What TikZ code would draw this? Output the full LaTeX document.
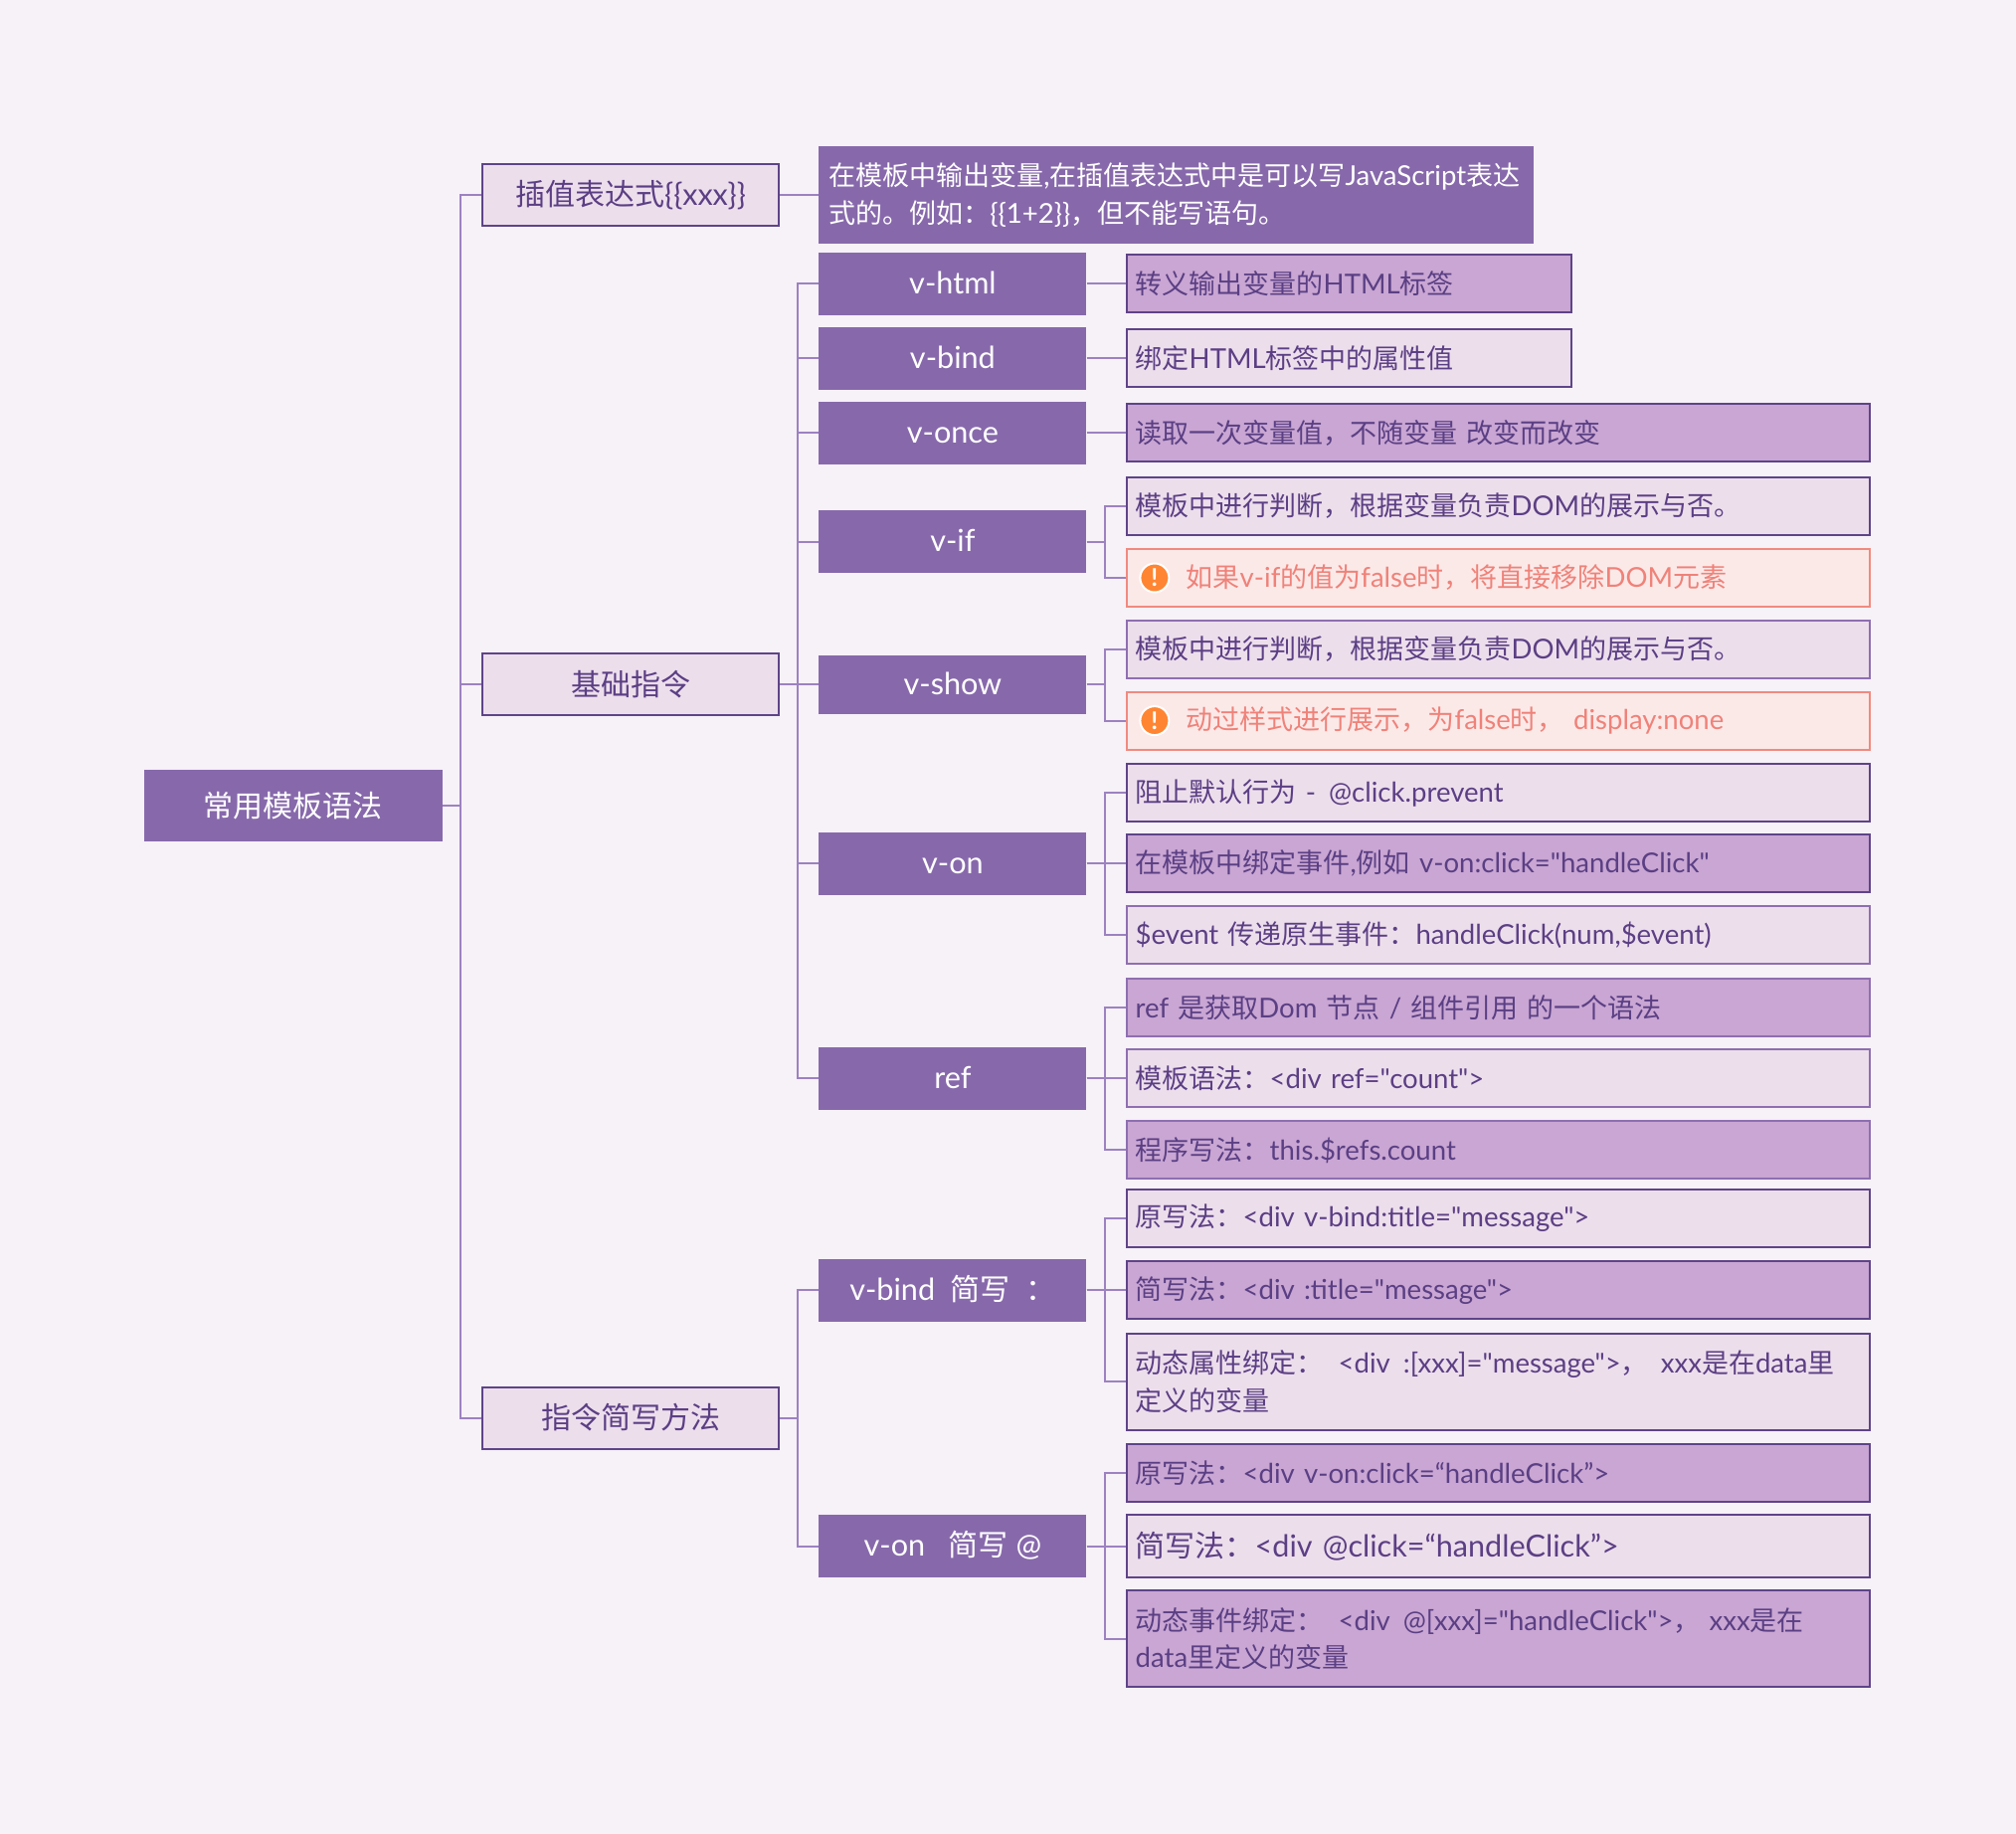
\documentclass[tikz,border=0pt]{standalone}
\usepackage{fontspec}
\newfontfamily\latinface[Scale=1.02]{Lato}
\newfontfamily\cjk{Noto Sans CJK SC}
\XeTeXinterchartokenstate=1
\newXeTeXintercharclass\cjkclass
\newcount\cjkcnt
\def\cjkrange#1#2{\cjkcnt=#1 \loop\ifnum\cjkcnt<#2 \XeTeXcharclass\cjkcnt=\cjkclass \advance\cjkcnt by 1 \repeat}
\cjkrange{"3000}{"3040}
\cjkrange{"4E00}{"A000}
\cjkrange{"FF00}{"FFF0}
\XeTeXinterchartoks 0 \cjkclass={\cjk}
\XeTeXinterchartoks 4095 \cjkclass={\cjk}
\XeTeXinterchartoks \cjkclass 0 ={\latinface}
\XeTeXinterchartoks \cjkclass 4095 ={\latinface}
\definecolor{pagebg}{HTML}{F7F1F8}
\definecolor{barfill}{HTML}{8769AB}
\definecolor{lightfill}{HTML}{EDDEEC}
\definecolor{midfill}{HTML}{C9A6D3}
\definecolor{boxline}{HTML}{5E4488}
\definecolor{softline}{HTML}{8E6FB0}
\definecolor{connline}{HTML}{9C82C0}
\definecolor{inktext}{HTML}{5B3F84}
\definecolor{alertfill}{HTML}{FBE9E8}
\definecolor{alertline}{HTML}{F08A80}
\definecolor{alerttext}{HTML}{EF8279}
\definecolor{alerticon}{HTML}{FF8533}
\tikzset{
  big/.style={font=\fontsize{30}{38}\selectfont\latinface},
  small/.style={font=\fontsize{27}{37.5}\selectfont\latinface},
  rootbox/.style={big, fill=barfill, text=white, minimum width=300pt, minimum height=72pt},
  groupbox/.style={big, draw=boxline, line width=2pt, fill=lightfill, text=inktext, minimum width=298pt, minimum height=62pt},
  keybox/.style={big, fill=barfill, text=white, minimum width=269pt, minimum height=63pt, text height=20pt, text depth=0pt},
  descbox/.style={small, fill=barfill, text=white, minimum width=719pt, minimum height=98pt, text width=699pt, inner xsep=10pt, align=left},
  leafbox/.style={small, draw=boxline, line width=2pt, text=inktext, text width=#1-17pt, inner xsep=8.5pt, align=left, minimum height=58pt},
  leafbox/.default=747pt,
  lightleaf/.style={leafbox=#1, fill=lightfill},
  lightleaf/.default=747pt,
  midleaf/.style={leafbox=#1, fill=midfill},
  midleaf/.default=747pt,
  alertleaf/.style={small, draw=alertline, line width=2pt, fill=alertfill, text=alerttext, text width=730pt, inner xsep=8.5pt, align=left, minimum height=58pt, execute at begin node=\hspace*{51pt}},
  alertmark/.style={circle, draw=white, line width=2pt, fill=alerticon, text=white, minimum size=29pt, inner sep=0pt, font=\fontsize{24}{24}\bfseries\selectfont\latinface},
  conn/.style={draw=connline, line width=2pt}
}
\begin{document}
\begin{tikzpicture}[x=1pt,y=-1pt]
\useasboundingbox (0,0) rectangle (2027,1844);
\fill[pagebg] (0,0) rectangle (2027,1844);

\node[rootbox] (root) at (294.7,810) {常用模板语法};
\node[groupbox] (interp) at (634.1,195.8) {插值表达式\{\{xxx\}\}};
\node[groupbox] (basic) at (634.1,688.4) {基础指令};
\node[groupbox] (short) at (634.1,1425.5) {指令简写方法};
\node[descbox] (desc) at (1182.8,195.8) {在模板中输出变量,在插值表达式中是可以写JavaScript表达\\式的。例如：\{\{1+2\}\}，但不能写语句。};

\node[keybox] (vhtml) at (957.9,285) {v-html};
\node[keybox] (vbind) at (957.9,360) {v-bind};
\node[keybox] (vonce) at (957.9,435) {v-once};
\node[keybox] (vif) at (957.9,544.9) {v-if};
\node[keybox, minimum height=59pt] (vshow) at (957.9,688.4) {v-show};
\node[keybox] (von) at (957.9,868) {v-on};
\node[keybox] (ref) at (957.9,1084.4) {ref};
\node[keybox] (vbindshort) at (957.9,1297.2) {v-bind\ \ 简写\ \ ：};
\node[keybox] (vonshort) at (957.9,1554.5) {v-on\ \ \ 简写 @};

\node[midleaf=447pt] (htmlnote) at (1356.7,285) {转义输出变量的HTML标签};
\node[lightleaf=447pt] (bindnote) at (1356.7,360) {绑定HTML标签中的属性值};
\node[midleaf] (oncenote) at (1506.7,435) {读取一次变量值，不随变量 改变而改变};
\node[lightleaf] (ifnote) at (1506.7,508.7) {模板中进行判断，根据变量负责DOM的展示与否。};
\node[alertleaf] (ifalert) at (1506.7,581) {如果v-if的值为false时，将直接移除DOM元素};
\node[lightleaf, draw=softline] (shownote) at (1506.7,652.8) {模板中进行判断，根据变量负责DOM的展示与否。};
\node[alertleaf] (showalert) at (1506.7,724.6) {动过样式进行展示，为false时， display:none};
\node[lightleaf] (onprevent) at (1506.7,797) {阻止默认行为 -\hspace{13pt}@click.prevent};
\node[midleaf] (onclick) at (1506.7,868) {在模板中绑定事件,例如 v-on:click="handleClick"};
\node[lightleaf, draw=softline] (onevent) at (1506.7,940.4) {\$event 传递原生事件：handleClick(num,\$event)};
\node[midleaf, draw=softline] (refwhat) at (1506.7,1012.8) {ref 是获取Dom 节点 / 组件引用 的一个语法};
\node[lightleaf, draw=softline] (reftpl) at (1506.7,1084.4) {模板语法：<div ref="count">};
\node[midleaf, draw=softline] (refcode) at (1506.7,1156.3) {程序写法：this.\$refs.count};
\node[lightleaf] (bindold) at (1506.7,1224.8) {原写法：<div v-bind:title="message">};
\node[midleaf] (bindnew) at (1506.7,1297.2) {简写法：<div :title="message">};
\node[lightleaf, minimum height=97pt] (binddyn) at (1506.7,1389) {动态属性绑定：\hspace{15pt}<div\hspace{13pt}:[xxx]="message">，\hspace{13pt}xxx是在data里\\定义的变量};
\node[midleaf] (onold) at (1506.7,1480.8) {原写法：<div v-on:click=“handleClick”>};
\node[lightleaf, big, minimum height=63pt] (onnew) at (1506.7,1554.5) {简写法：<div @click=“handleClick”>};
\node[midleaf, minimum height=97pt] (ondyn) at (1506.7,1647.6) {动态事件绑定：\hspace{15pt}<div\hspace{13pt}@[xxx]="handleClick">，\hspace{9pt}xxx是在\\data里定义的变量};

\node[alertmark] (ifmark) at (1160.9,581) {!};
\node[alertmark] (showmark) at (1160.9,724.6) {!};

\foreach \from/\to in {root/interp, root/basic, root/short, interp/desc,
  basic/vhtml, basic/vbind, basic/vonce, basic/vif, basic/vshow, basic/von, basic/ref,
  short/vbindshort, short/vonshort,
  vhtml/htmlnote, vbind/bindnote, vonce/oncenote, vif/ifnote, vif/ifalert,
  vshow/shownote, vshow/showalert, von/onprevent, von/onclick, von/onevent,
  ref/refwhat, ref/reftpl, ref/refcode,
  vbindshort/bindold, vbindshort/bindnew, vbindshort/binddyn,
  vonshort/onold, vonshort/onnew, vonshort/ondyn}
  \draw[conn] (\from.east) -- ++(18,0) |- (\to.west);
\end{tikzpicture}
\end{document}
